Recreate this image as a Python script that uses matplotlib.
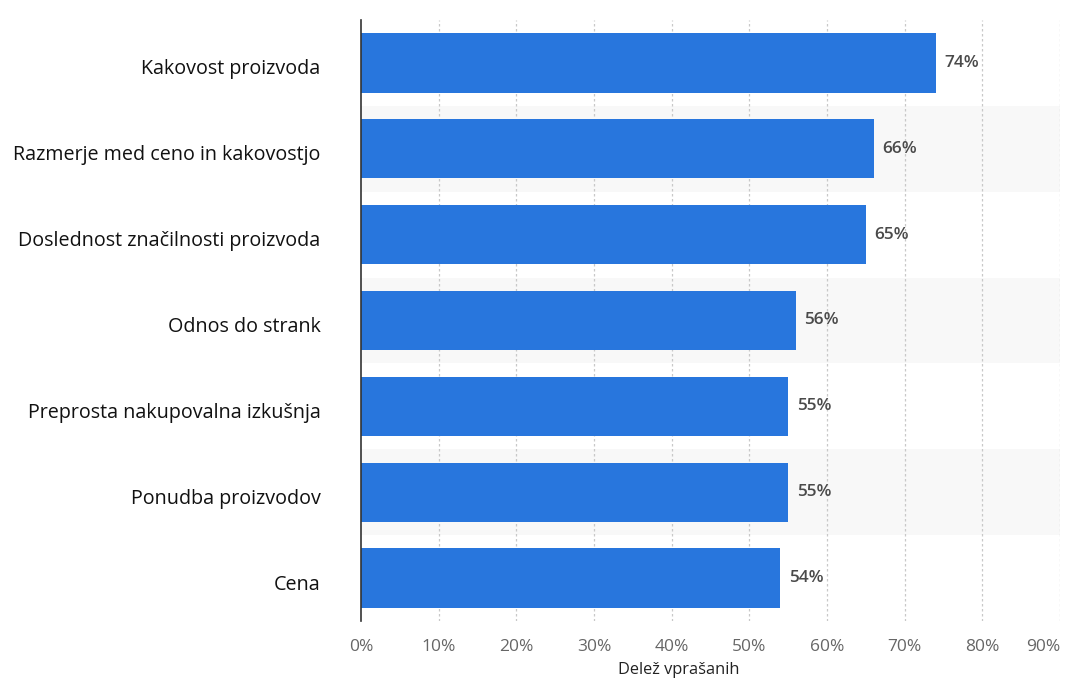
import matplotlib
matplotlib.use("Agg")
import matplotlib.pyplot as plt
import matplotlib.transforms as mtransforms
from matplotlib.ticker import FuncFormatter

categories = [
    "Kakovost proizvoda",
    "Razmerje med ceno in kakovostjo",
    "Doslednost značilnosti proizvoda",
    "Odnos do strank",
    "Preprosta nakupovalna izkušnja",
    "Ponudba proizvodov",
    "Cena",
]
values = [74, 66, 65, 56, 55, 55, 54]
x_ticks = [0, 10, 20, 30, 40, 50, 60, 70, 80, 90]
x_label = "Delež vprašanih"

plt.rcParams["font.family"] = ["Open Sans", "DejaVu Sans"]

fig = plt.figure(figsize=(10.73, 6.79), dpi=100)
ax = fig.add_axes([361 / 1073, 1 - 621 / 679, (1060 - 361) / 1073, 601 / 679])

n = len(categories)
pos = list(range(n))

# alternating row shading
for i in pos:
    if i % 2 == 1:
        ax.axhspan(i - 0.5, i + 0.5, xmin=0, xmax=1, color="#f8f8f8", zorder=0, lw=0)

ax.barh(pos, values, height=0.69, color="#2876dd", zorder=3)

for i, v in zip(pos, values):
    ax.text(v + 1.1, i, f"{v}%", va="center", ha="left", fontsize=12.4,
            fontweight="semibold", color="#4a4a4a", zorder=4)

ax.set_xlim(0, 90)
ax.set_ylim(n - 0.5, -0.5)
ax.set_yticks(pos)
ax.set_yticklabels(categories, fontsize=14.2, color="#111111")
ax.tick_params(axis="y", length=0, pad=29)
shift = mtransforms.ScaledTranslation(0, -4 / 100, fig.dpi_scale_trans)
for lbl in ax.get_yticklabels():
    lbl.set_transform(lbl.get_transform() + shift)

ax.set_xticks(x_ticks)
ax.xaxis.set_major_formatter(FuncFormatter(lambda x, _: f"{int(x)}%"))
ax.tick_params(axis="x", length=0, pad=13, labelsize=12.5, labelcolor="#666666")
labels = ax.get_xticklabels()
labels[-1].set_horizontalalignment("right")

for x in x_ticks[1:]:
    ax.axvline(x, color="#c8c8c8", lw=0.9, ls=(0, (2, 2)), zorder=1, ymin=0, ymax=1)

for s in ["top", "right", "bottom"]:
    ax.spines[s].set_visible(False)
ax.spines["left"].set_color("#333333")
ax.spines["left"].set_linewidth(1.2)
ax.spines["left"].set_zorder(5)

fig.text(679 / 1073, 1 - 670 / 679, x_label, ha="center", va="center",
         fontsize=11.8, color="#222222")

fig.savefig("out.png", dpi=100, facecolor="white")
